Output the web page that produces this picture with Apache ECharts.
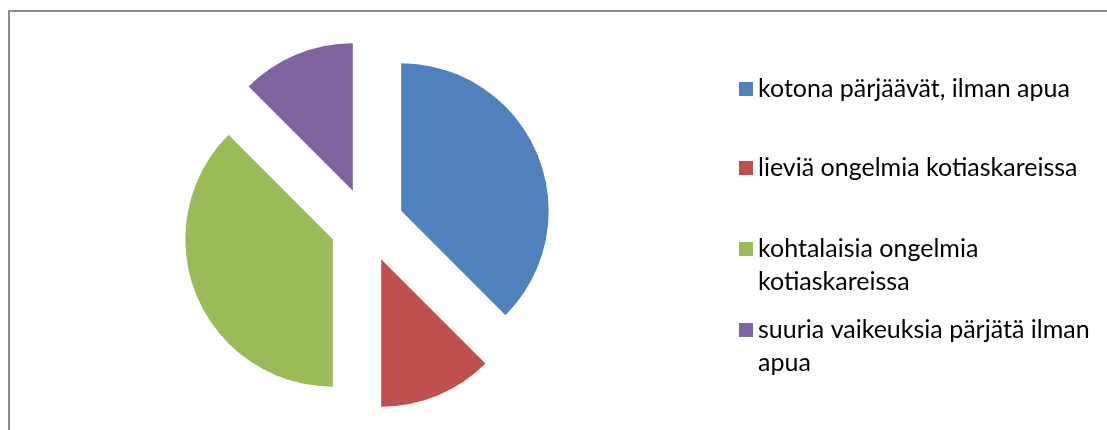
<!DOCTYPE html>
<html>
<head>
<meta charset="utf-8">
<title>Pie</title>
<script src="https://cdn.jsdelivr.net/npm/echarts@6/dist/echarts.min.js"></script>
<style>
  html, body { margin: 0; padding: 0; background: #fff; }
  #chart { width: 1107px; height: 430px; }
</style>
</head>
<body>
<div id="chart"></div>
<script>
const categories = [
  'kotona pärjäävät, ilman apua',
  'lieviä ongelmia kotiaskareissa',
  'kohtalaisia ongelmia kotiaskareissa',
  'suuria vaikeuksia pärjätä ilman apua'
];
const values = [3, 1, 3, 1];
// how each legend label wraps in the original
const legendLines = [
  ['kotona pärjäävät, ilman apua'],
  ['lieviä ongelmia kotiaskareissa'],
  ['kohtalaisia ongelmia', 'kotiaskareissa'],
  ['suuria vaikeuksia pärjätä ilman', 'apua']
];
const colors = ['#4f81bd', '#c0504d', '#9bbb59', '#8064a2'];

const fontFamily = 'Lato, "Open Sans", sans-serif';
const fontSize = 25;
const lineHeight = 33;
const iconCenters = [89, 168, 249, 330];

const chart = echarts.init(document.getElementById('chart'), null, { renderer: 'canvas' });

// the legend text is centred on the icon, so wrapped labels get an empty
// first line to keep the icon level with their first line
const legends = categories.map((name, i) => {
  const lines = legendLines[i];
  const extra = lines.length - 1;
  const text = '\n'.repeat(extra) + lines.join('\n');
  return {
    data: [{ name, icon: 'rect' }],
    orient: 'vertical',
    left: 739,
    top: iconCenters[i] - lineHeight / 2 - extra * lineHeight,
    padding: 0,
    itemWidth: 14,
    itemHeight: 14,
    selectedMode: false,
    formatter: () => text,
    textStyle: {
      fontFamily,
      fontSize,
      lineHeight,
      color: '#000'
    }
  };
});

const option = {
  animation: false,
  color: colors,
  graphic: [{
    type: 'rect',
    silent: true,
    shape: { x: 9, y: 11, width: 1200, height: 500 },
    style: { fill: 'none', stroke: '#8c8c8c', lineWidth: 2 }
  }],
  legend: legends,
  series: [{
    type: 'pie',
    center: [367, 225],
    radius: 147.5,
    startAngle: 90,
    clockwise: true,
    selectedMode: 'multiple',
    selectedOffset: 37,
    label: { show: false },
    labelLine: { show: false },
    emphasis: { disabled: true },
    select: { itemStyle: { borderWidth: 0 } },
    itemStyle: { borderWidth: 0 },
    data: categories.map((name, i) => ({
      name,
      value: values[i],
      selected: true
    }))
  }]
};

chart.setOption(option);
</script>
</body>
</html>
